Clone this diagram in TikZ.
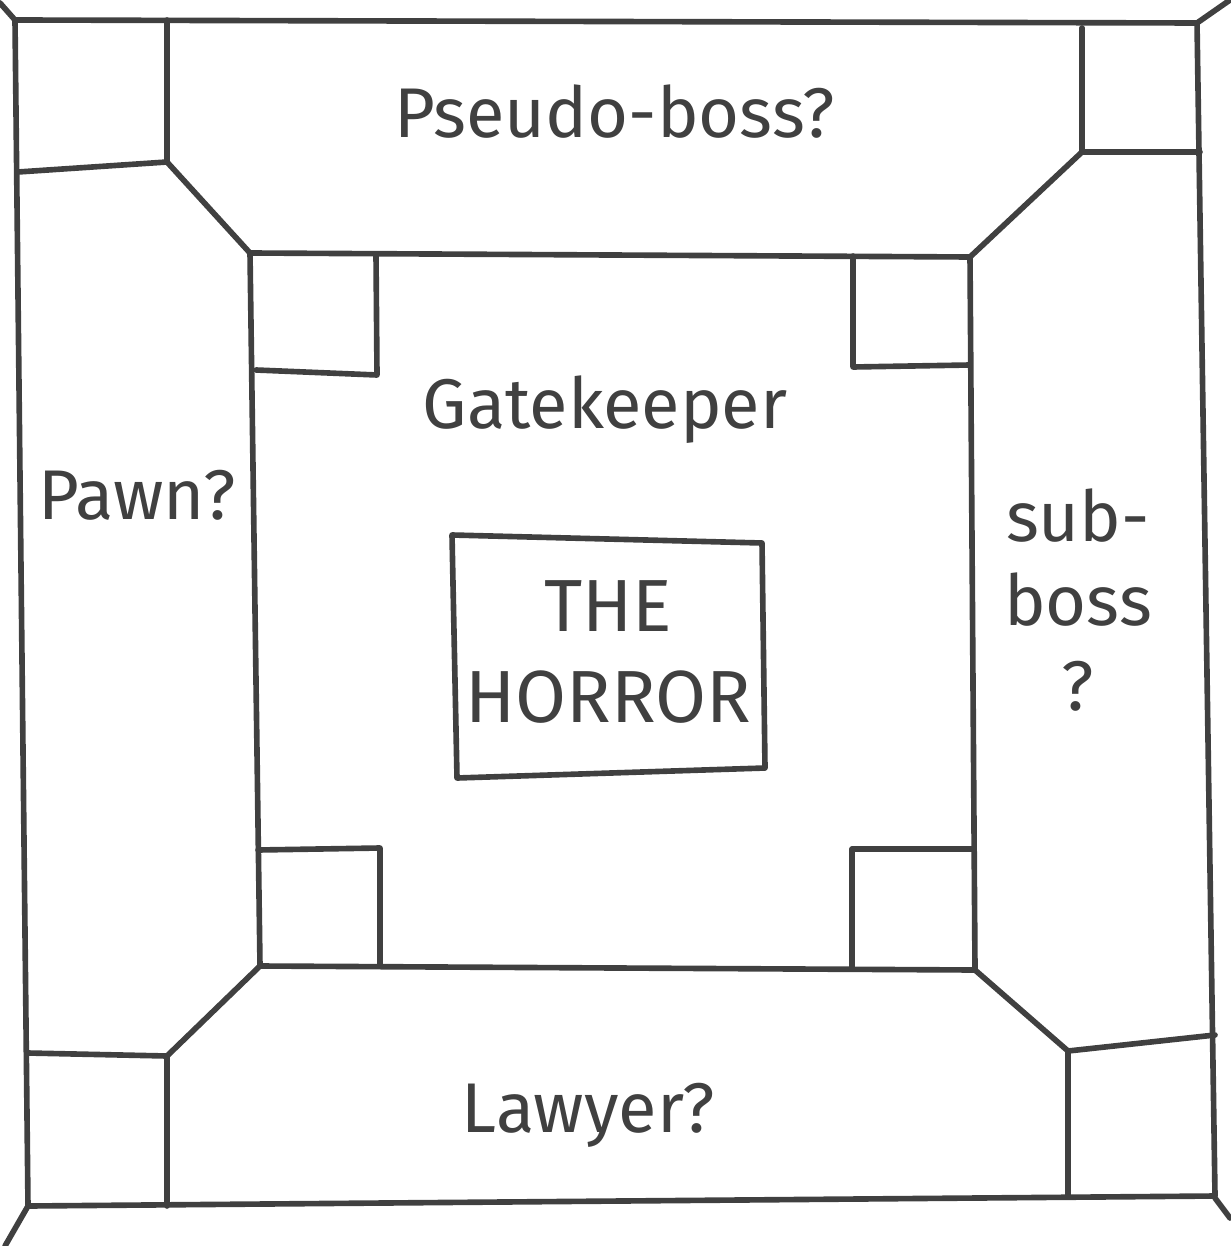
\documentclass[tikz,border=0pt]{standalone}
\usepackage{fontspec}
\setsansfont{Fira Sans}
\usepackage{tikz}
\usetikzlibrary{positioning}

\begin{document}
\begin{tikzpicture}[x=0.01cm, y=-0.01cm,
  wall/.style={draw=black!75, line width=1.6pt, line join=round, line cap=round},
  room/.style={font=\sffamily\fontsize{20}{24}\selectfont, text=black!75, inner sep=0pt},
  boss/.style={font=\sffamily\fontsize{21}{26}\selectfont, text=black!75, align=center, inner sep=0pt}
]
\useasboundingbox (0,0) rectangle (1230,1246);
% outer hall
\draw[wall] (15,20) -- (1197,23) -- (1215,1196) -- (28,1206) -- cycle;
\draw[wall] (0,3) -- (15,20);
\draw[wall] (1197,23) -- (1230,0);
\draw[wall] (28,1206) -- (5,1246);
\draw[wall] (1215,1198) -- (1230,1218);
% outer corner rooms
\draw[wall] (167,20) -- (167,162);
\draw[wall] (18,172) -- (167,162) -- (250,253);
\draw[wall] (1082,28) -- (1082,152) -- (1200,152);
\draw[wall] (1082,152) -- (970,257);
\draw[wall] (28,1053) -- (167,1056) -- (167,1206);
\draw[wall] (167,1056) -- (260,966);
\draw[wall] (1068,1196) -- (1068,1051) -- (1215,1035);
\draw[wall] (1068,1051) -- (975,970);
% inner hall
\draw[wall] (250,253) -- (970,257) -- (975,970) -- (260,966) -- cycle;
\draw[wall] (376,255) -- (377,375) -- (256,370);
\draw[wall] (853,256) -- (853,367) -- (970,365);
\draw[wall] (258,850) -- (380,848) -- (380,966);
\draw[wall] (972,849) -- (852,849) -- (852,968);
% centre
\draw[wall] (452,535) -- (762,543) -- (765,768) -- (457,778) -- cycle;

\node[room] (pseudo) at (615,112) {Pseudo-boss?};
\node[room] (gate) at (605,410) {Gatekeeper};
\node[room] (pawn) at (137,495) {Pawn?};
\node[room, align=center] (sub) at (1078,600) {sub-\\boss\\?};
\node[room] (lawyer) at (588,1115) {Lawyer?};
\node[boss] (horror) at (608,652) {THE\\HORROR};
\end{tikzpicture}
\end{document}
